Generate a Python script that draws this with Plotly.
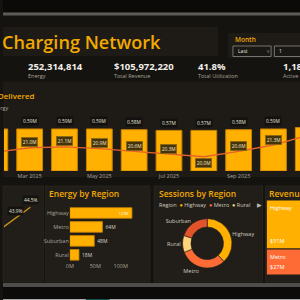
import plotly.graph_objects as go

# ---------------- data ----------------
months = ["Feb 2025", "Mar 2025", "Apr 2025", "May 2025", "Jun 2025",
          "Jul 2025", "Aug 2025", "Sep 2025", "Oct 2025", "Nov 2025"]
sessions_m = [0.59, 0.59, 0.59, 0.59, 0.58, 0.57, 0.57, 0.58, 0.59, 0.61]
energy_m = [20.5, 21.0, 21.1, 20.9, 20.6, 20.3, 20.0, 20.6, 21.3, 22.4]
month_ticks = ["Mar 2025", "May 2025", "Jul 2025", "Sep 2025", "Nov 2025"]

kpi_values = ["252,314,814", "$105,972,220", "41.8%", "1,180"]
kpi_labels = ["Energy", "Total Revenue", "Total Utilization", "Active Stations"]

util_months = ["Sep 2025", "Oct 2025", "Nov 2025"]
util_pct = [43.3, 43.9, 44.5]

energy_regions = ["Highway", "Metro", "Suburban", "Rural"]
energy_by_region = [122, 64, 48, 18]
energy_ticks = [0, 50, 100]

session_regions = ["Highway", "Metro", "Rural", "Suburban"]
sessions_by_region = [2.6, 2.1, 0.75, 1.35]

revenue_regions = ["Highway", "Metro", "Suburban", "Rural"]
revenue_by_region = [51, 27, 20, 8]

# ---------------- style ----------------
W = H = 300
BG = "#15130f"
PANEL = "#1e1b17"
PANEL2 = "#211e19"
ORANGE = "#F2A900"
BAR = "#FFB000"
LINE = "#E8612C"
GRAY = "#a8a298"
FONT = "Open Sans"
region_colors = {"Highway": "#FFB000", "Metro": "#FF6B35",
                 "Rural": "#FFD37A", "Suburban": "#E2532B"}


def X(px):
    return px / W


def Y(py):
    return 1 - py / H


shapes = []


def rect(x0, y0, x1, y1, fill, line=None, lw=0):
    shapes.append(dict(type="rect", xref="paper", yref="paper",
                       x0=X(x0), x1=X(x1), y0=Y(y1), y1=Y(y0),
                       fillcolor=fill, line=dict(color=line or fill, width=lw),
                       layer="below"))


annotations = []


def txt(x, y, text, size, color, xanchor="left", weight=400, yanchor="middle"):
    annotations.append(dict(x=X(x), y=Y(y), xref="paper", yref="paper",
                            text=text, showarrow=False, xanchor=xanchor,
                            yanchor=yanchor,
                            font=dict(size=size, color=color, family=FONT,
                                      weight=weight)))


# background structure
rect(-1, -1, 301, 12.5, "#0b0a09")
rect(-1, 12.5, 301, 15.5, "#5e5c59")
rect(-1, 27, 217, 56, PANEL)
rect(227, 33, 301, 58, PANEL)
rect(-1, 82, 301, 177, PANEL)
for x0, x1 in [(-1, 40), (42, 148), (152, 262), (265, 301)]:
    rect(x0, 186, x1, 282, PANEL2, "#2a2620", 0.8)
rect(-1, 283, 301, 287, "#4e4d4b")
rect(-1, 287, 301, 301, "#0c0b0a")
rect(-1, 299, 301, 301, "#a9a9a9")
rect(83, 299, 107, 301, "#0d5a4c")

# title
txt(161, 42.5, "EV Charging Network", 18.1, ORANGE, xanchor="right", weight=600)

# slicer
txt(232, 40, "Month", 6.5, ORANGE, weight=600)
shapes.append(dict(type="rect", xref="paper", yref="paper", x0=X(232), x1=X(270.7),
                   y0=Y(56.5), y1=Y(46), fillcolor="#1a1814",
                   line=dict(color="#8d8a84", width=0.8)))
shapes.append(dict(type="rect", xref="paper", yref="paper", x0=X(274), x1=X(303),
                   y0=Y(56.5), y1=Y(46), fillcolor="#1a1814",
                   line=dict(color="#8d8a84", width=0.8)))
txt(235, 51.3, "Last", 5, "#e8e4dc")
txt(265, 51, "v", 4.5, "#9a968e")
txt(277, 51.3, "1", 5, "#e8e4dc")

# KPI row
for xpos, v, lab in zip([23, 110, 196, 282], kpi_values, kpi_labels):
    txt(xpos - 1, 66.5, v, 9.5, "#f2efe9", weight=700)
    txt(xpos - 1, 76, lab, 5.5, GRAY)

# chart titles
txt(32, 95.5, "Energy Delivered", 7.9, ORANGE, xanchor="right", weight=600)
txt(6, 108, "Sessions and Energy", 5.5, GRAY, xanchor="right")
txt(44, 193, "Energy by Region", 8.5, ORANGE, weight=600)
txt(155, 193, "Sessions by Region", 8.5, ORANGE, weight=600)
txt(267, 193, "Revenue by Region", 8.5, ORANGE, weight=600)

# legend for donut (only the entries that fit, then a scroll arrow)
legend_txt = "Region  " + "  ".join(
    f"<span style='color:{region_colors[r]}'>●</span> {r}" for r in session_regions[:3])
txt(155, 204.5, legend_txt, 5.5, "#cfc9bf")
txt(254, 204.5, "▶", 5.5, "#bdb8b0")

fig = go.Figure()

# ---------------- main combo chart ----------------
fig.add_trace(go.Bar(x=months, y=sessions_m, xaxis="x", yaxis="y", width=0.74,
                     marker=dict(color=BAR, line=dict(color="#C98300", width=1))))
fig.add_trace(go.Scatter(x=months, y=energy_m, xaxis="x", yaxis="y2", mode="lines",
                         line=dict(color=LINE, width=1.4)))
for m, v in zip(months, sessions_m):
    annotations.append(dict(x=m, y=v, xref="x", yref="y", text=f"{v:.2f}M",
                            showarrow=False, yanchor="bottom", yshift=2.5,
                            font=dict(size=4.8, color="#e6e1d8", family=FONT),
                            bgcolor="#121110", borderpad=1))
emin = min(energy_m)
for m, v in zip(months, energy_m):
    annotations.append(dict(x=m, y=v, xref="x", yref="y2", text=f"{v:.1f}M",
                            showarrow=False, yanchor="middle",
                            yshift=(-6.5 if v == emin else 5.5),
                            font=dict(size=4.8, color="#f0e6c8", family=FONT),
                            bgcolor="#45330a", bordercolor="#8a6a18",
                            borderwidth=0.8, borderpad=1))

# ---------------- utilization line (partial panel) ----------------
fig.add_trace(go.Scatter(x=util_months, y=util_pct, xaxis="x3", yaxis="y3",
                         mode="lines", line=dict(color="#C8961C", width=1.4)))
for m, v in zip(util_months, util_pct):
    annotations.append(dict(x=m, y=v, xref="x3", yref="y3", text=f"{v:.1f}%",
                            showarrow=False, yanchor="bottom", yshift=2,
                            font=dict(size=4.8, color="#e6e1d8", family=FONT),
                            bgcolor="#15130f", borderpad=1))

# ---------------- energy by region ----------------
emax = max(energy_by_region)
fig.add_trace(go.Bar(y=energy_regions, x=energy_by_region, orientation="h",
                     xaxis="x4", yaxis="y4", width=0.76,
                     marker=dict(color=BAR, line=dict(color="#C98300", width=0.8)),
                     texttemplate="%{x:.0f}M",
                     textposition=["inside" if v > 0.8 * emax else "outside"
                                   for v in energy_by_region],
                     insidetextanchor="end",
                     insidetextfont=dict(size=5, color="#fff8e6", family=FONT),
                     outsidetextfont=dict(size=5, color="#d8d2c8", family=FONT),
                     cliponaxis=False))

# ---------------- sessions donut ----------------
fig.add_trace(go.Pie(labels=session_regions, values=sessions_by_region, hole=0.66,
                     sort=False, direction="clockwise", rotation=0,
                     marker=dict(colors=[region_colors[r] for r in session_regions],
                                 line=dict(color=PANEL2, width=0.6)),
                     textinfo="label", textposition="outside",
                     textfont=dict(size=5.5, color="#cfc9bf", family=FONT),
                     domain=dict(x=[X(181), X(231)], y=[Y(268.3), Y(218.3)]),
                     showlegend=False))

# ---------------- revenue treemap (columns of stacked tiles) ----------------
columns = [revenue_regions[:2], revenue_regions[2:]]
rev = dict(zip(revenue_regions, revenue_by_region))
left = 0
for col in columns:
    ctot = sum(rev[r] for r in col)
    top = 1.0
    for r in col:
        h = rev[r] / ctot
        fig.add_trace(go.Bar(x=[left + ctot / 2], y=[h], base=[top - h], width=[ctot],
                             xaxis="x5", yaxis="y5",
                             marker=dict(color=region_colors[r],
                                         line=dict(color=PANEL2, width=1))))
        annotations.append(dict(x=left, y=top, xref="x5", yref="y5", text=r,
                                showarrow=False, xanchor="left", yanchor="top",
                                xshift=1.5, yshift=-1.5,
                                font=dict(size=5.5, color="#ffffff", family=FONT)))
        annotations.append(dict(x=left, y=top - h, xref="x5", yref="y5",
                                text=f"${rev[r]}M",
                                showarrow=False, xanchor="left", yanchor="bottom",
                                xshift=1.5, yshift=2,
                                font=dict(size=5.5, color="#ffffff", family=FONT)))
        top -= h
    left += ctot

hidden = dict(visible=False, showgrid=False, zeroline=False)
fig.update_layout(
    width=W, height=H, margin=dict(l=0, r=0, t=0, b=0),
    paper_bgcolor=BG, plot_bgcolor="rgba(0,0,0,0)", showlegend=False,
    barmode="overlay", font=dict(family=FONT, color="#cfc9bf"),
    shapes=shapes, annotations=annotations,
    xaxis=dict(domain=[0, 1], type="category", categoryarray=months,
               range=[0.263, 8.762], tickmode="array", tickvals=month_ticks,
               tickfont=dict(size=5.5, color=GRAY), showgrid=False,
               zeroline=False, showline=False, ticks="", anchor="y"),
    yaxis=dict(domain=[Y(171), Y(120)], range=[0, 0.716], **hidden),
    yaxis2=dict(overlaying="y", range=[18.43, 24.07], anchor="x", **hidden),
    xaxis3=dict(domain=[0, X(40)], type="category", categoryarray=util_months,
                range=[0.184, 2.905], anchor="y3", **hidden),
    yaxis3=dict(domain=[Y(275), Y(200)], range=[40.7, 44.91], anchor="x3", **hidden),
    xaxis4=dict(domain=[X(66.7), X(140)], range=[0, 142], tickmode="array",
                tickvals=energy_ticks, ticktext=[f"{t}M" for t in energy_ticks],
                tickfont=dict(size=5.5, color=GRAY), showgrid=False,
                zeroline=False, ticks="", anchor="y4"),
    yaxis4=dict(domain=[Y(261.8), Y(206)], autorange="reversed",
                tickfont=dict(size=5.5, color=GRAY), showgrid=False,
                zeroline=False, ticks="", anchor="x4"),
    xaxis5=dict(domain=[X(266), 1], range=[0, 36], anchor="y5", **hidden),
    yaxis5=dict(domain=[Y(275), Y(200)], range=[0, 1], anchor="x5", **hidden),
)

fig.write_html("out.html")
